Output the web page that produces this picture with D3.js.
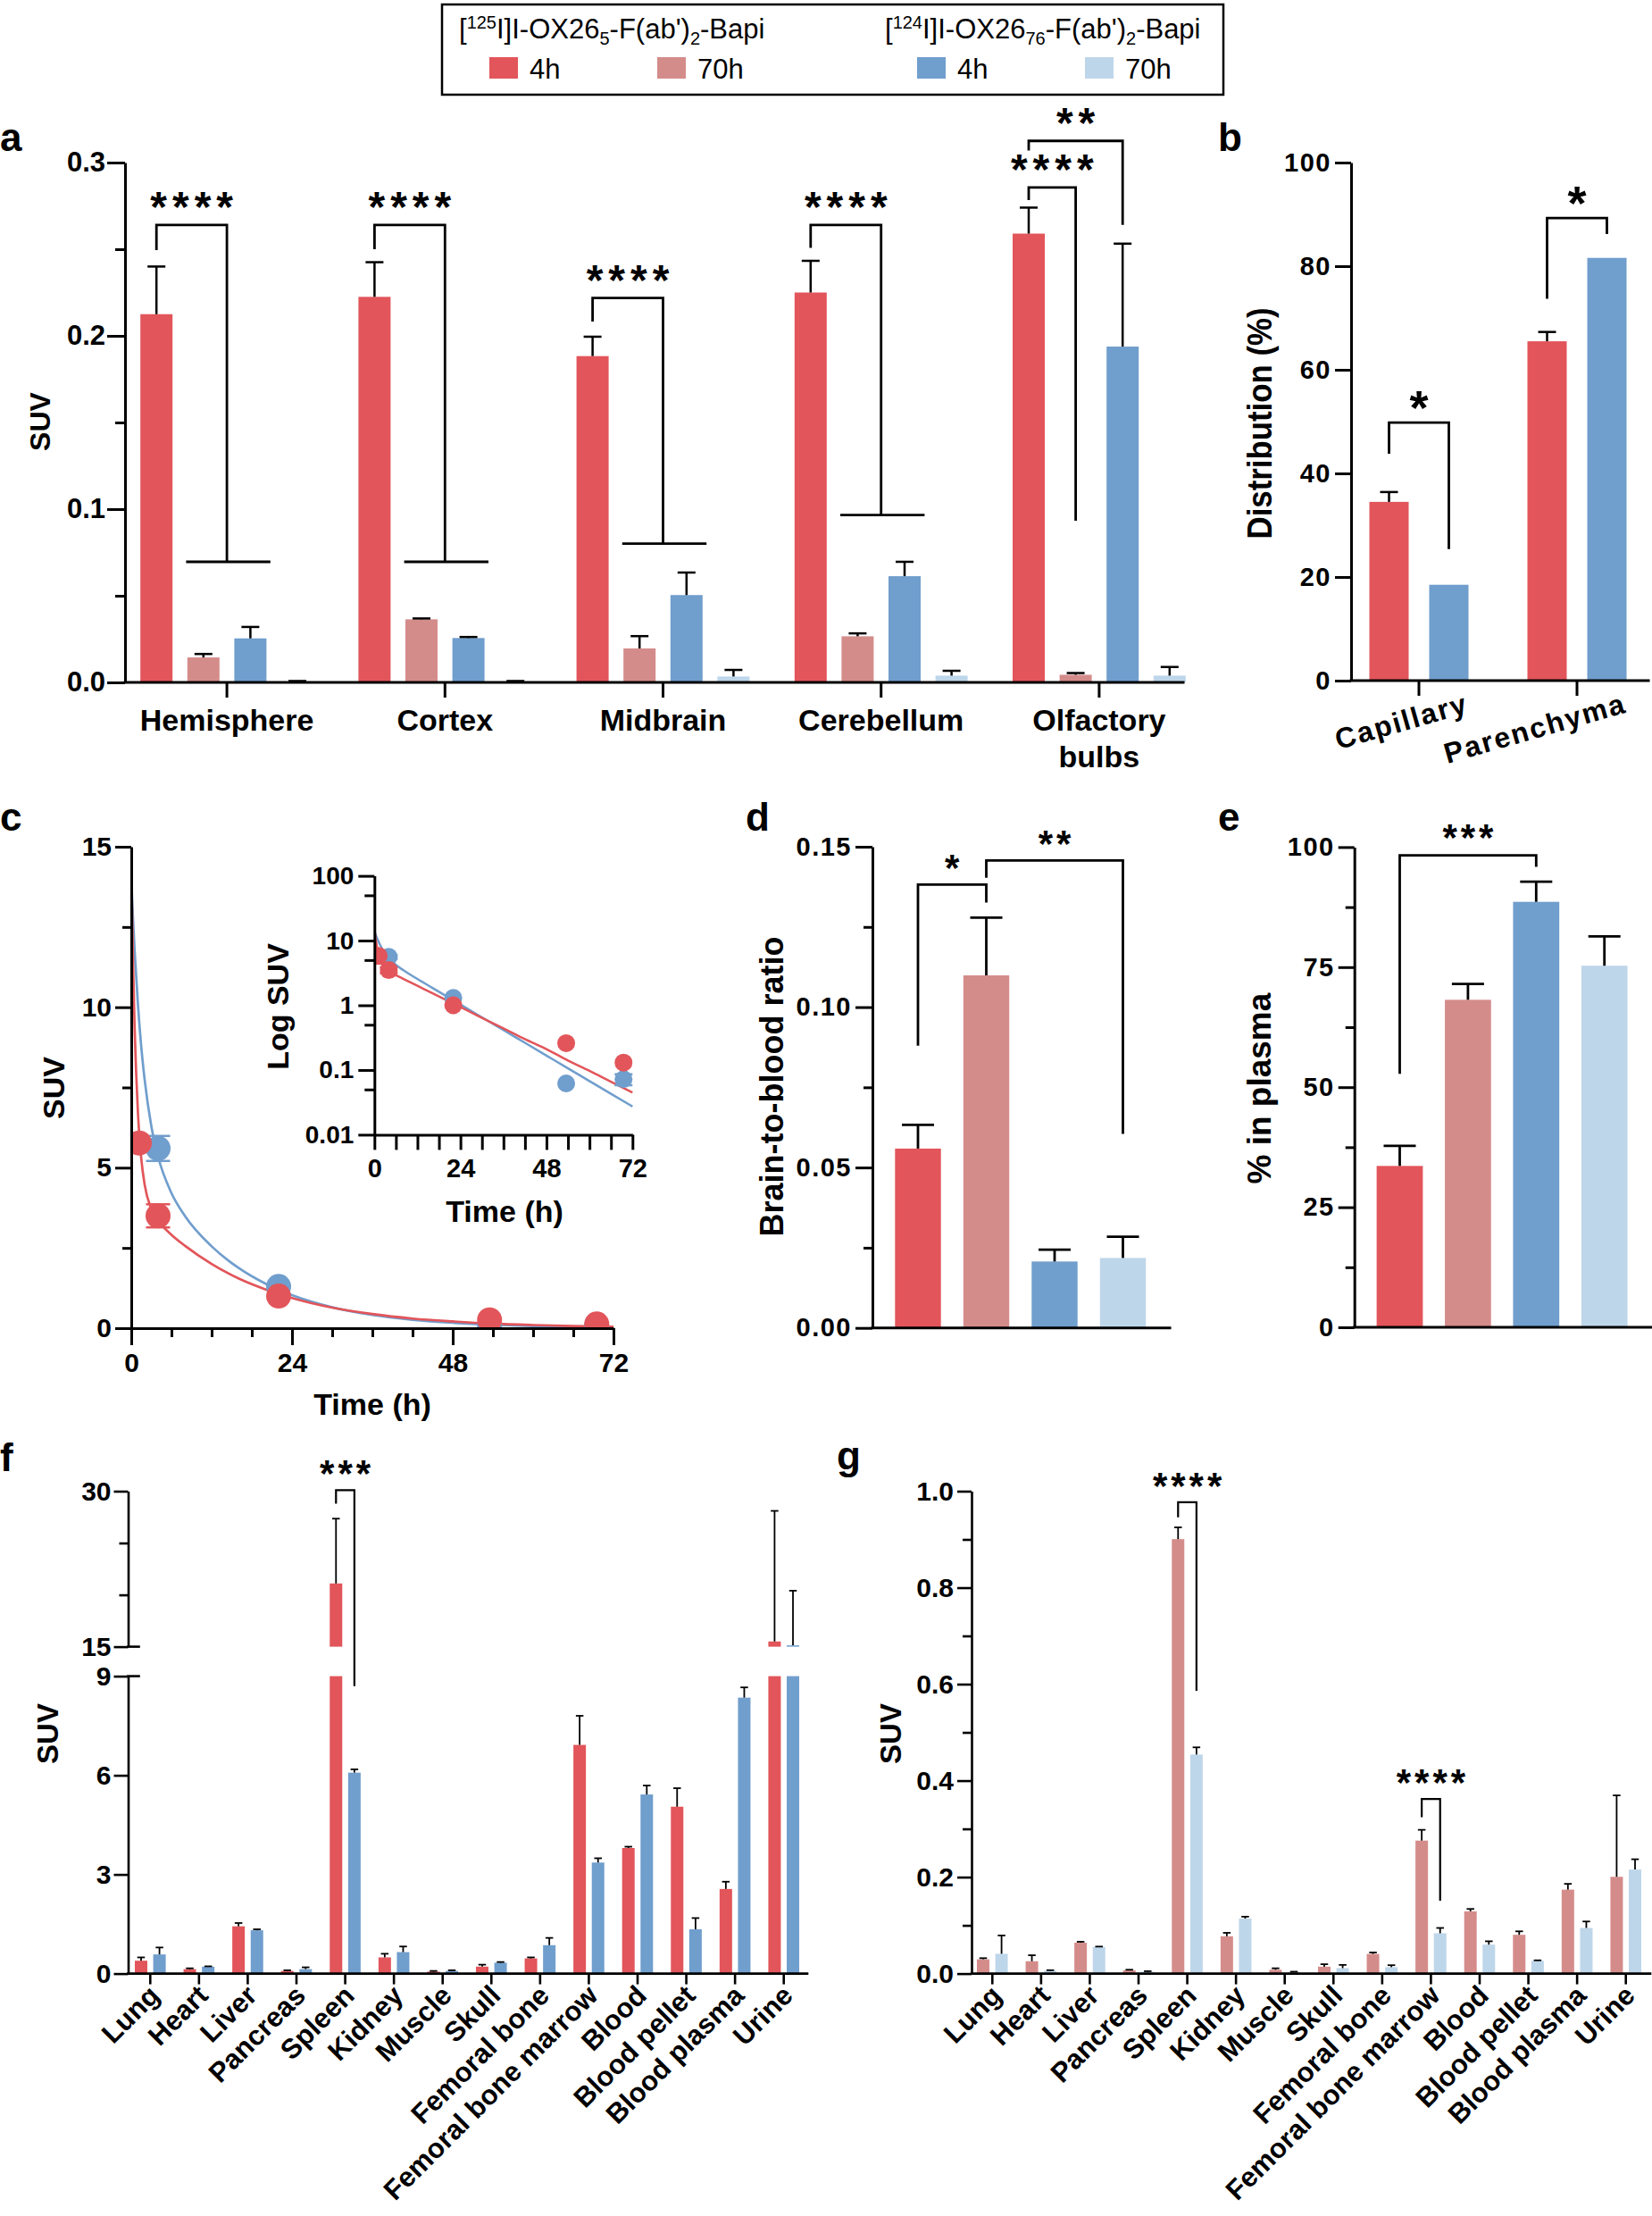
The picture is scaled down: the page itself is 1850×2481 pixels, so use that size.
<!DOCTYPE html>
<html>
<head>
<meta charset="utf-8">
<script src="https://cdn.jsdelivr.net/npm/d3@7"></script>
<style>
  body { margin: 0; background: #fff; }
  svg { display: block; }
  text { font-family: "Liberation Sans", Arial, Helvetica, sans-serif; fill: #000; }
</style>
</head>
<body>
<svg id="fig" width="1850" height="2481"></svg>
<script>
// ---- data ----
var seriesNames = ["4h", "70h", "4h", "70h"];
var seriesColors = ["#E2555A", "#D48C8B", "#709ECD", "#BED6EA"];

// a: brain regions, SUV
var regionsA = ["Hemisphere", "Cortex", "Midbrain", "Cerebellum", "Olfactory bulbs"];
var a125_4h = [0.2125, 0.2225, 0.1883, 0.225, 0.259];
var a125_4hSd = [0.0275, 0.02, 0.0112, 0.0183, 0.015];
var a125_70h = [0.0144, 0.0364, 0.0196, 0.0266, 0.0044];
var a125_70hSd = [0.002, 0.0005, 0.0071, 0.0017, 0.001];
var a124_4h = [0.0254, 0.0256, 0.0504, 0.0613, 0.1938];
var a124_4hSd = [0.0066, 0.0006, 0.013, 0.0083, 0.0594];
var a124_70h = [0.0005, 0.0005, 0.0034, 0.0039, 0.0039];
var a124_70hSd = [0.0003, 0.0003, 0.0038, 0.0028, 0.005];
var aTicks = [0, 0.1, 0.2, 0.3];
var aMinor = [0.05, 0.15, 0.25];
// group, left series, right series (-1 = group centre with cross bar), top, left foot, right foot, label
var aSig = [
  [0, 0, -1, 0.264, 0.2495, 0.0696, "****"],
  [1, 0, -1, 0.264, 0.250, 0.0696, "****"],
  [2, 0, -1, 0.2218, 0.2082, 0.0801, "****"],
  [3, 0, -1, 0.264, 0.2508, 0.0966, "****"],
  [4, 0, 1, 0.2856, 0.2784, 0.0933, "****"],
  [4, 0, 2, 0.3125, 0.307, 0.264, "**"]
];

// b: distribution (%)
var compartments = ["Capillary", "Parenchyma"];
var b125 = [34.5, 65.5], b125Sd = [1.9, 1.8];
var b124 = [18.5, 81.6], b124Sd = [0, 0];
var bTicks = [0, 20, 40, 60, 80, 100];
var bSig = [[0, 49.8, 43.8, 25.4, "*"], [1, 89.3, 73.7, 86.2, "*"]];

// c: blood SUV over time
var tRed = [1.2, 4, 22, 53.5, 69.5];
var suvRed = [5.77, 3.5, 1.0, 0.26, 0.13];
var suvRedSd = [0, 0.36, 0, 0, 0];
var tBlue = [4, 22, 53.5, 69.5];
var suvBlue = [5.6, 1.3, 0.062, 0.072];
var suvBlueSd = [0.39, 0, 0, 0.014];
var fitT = [0, 0.25, 0.5, 1, 1.5, 2, 3, 4, 6, 8, 12, 16, 20, 24, 30, 36, 42, 48, 54, 60, 66, 72];
var fitRed = [14.4, 11.5, 9.37, 6.7, 5.27, 4.47, 3.71, 3.35, 2.91, 2.57, 2.0, 1.55, 1.21, 0.94, 0.64, 0.44, 0.30, 0.21, 0.14, 0.097, 0.066, 0.045];
var fitBlue = [14.0, 12.81, 11.77, 10.07, 8.75, 7.74, 6.29, 5.35, 4.21, 3.5, 2.55, 1.88, 1.39, 1.03, 0.652, 0.414, 0.263, 0.167, 0.106, 0.0675, 0.0429, 0.0273];
var cTicksY = [0, 5, 10, 15], cMinorY = [2.5, 7.5, 12.5];
var timeTicks = [0, 24, 48, 72], timeMinor = [6, 12, 18, 30, 36, 42, 54, 60, 66];
var logTicks = [0.01, 0.1, 1, 10, 100], logMinor = [0.05, 0.5, 5, 50];

// d: brain-to-blood ratio
var dRatio = [0.0559, 0.1099, 0.0207, 0.0218];
var dRatioSd = [0.0074, 0.018, 0.0037, 0.0066];
var dTicks = [0, 0.05, 0.10, 0.15], dMinor = [0.025, 0.075, 0.125];
var dSig = [[0, 1, 0.1382, 0.088, 0.1326, "*"], [1, 3, 0.1457, 0.1403, 0.0605, "**"]];

// e: % in plasma
var ePlasma = [33.6, 68.2, 88.6, 75.3];
var ePlasmaSd = [4.2, 3.3, 4.2, 6.1];
var eTicks = [0, 25, 50, 75, 100], eMinor = [12.5, 37.5, 62.5, 87.5];
var eSig = [[0, 2, 98.3, 52.8, 95.9, "***"]];

// f, g: biodistribution
var organs = ["Lung", "Heart", "Liver", "Pancreas", "Spleen", "Kidney", "Muscle", "Skull", "Femoral bone",
  "Femoral bone marrow", "Blood", "Blood pellet", "Blood plasma", "Urine"];
var f125 = [0.39, 0.135, 1.43, 0.08, 21.1, 0.49, 0.06, 0.21, 0.46, 6.92, 3.8, 5.05, 2.56, 15.5];
var f125Sd = [0.10, 0.025, 0.10, 0.02, 6.25, 0.11, 0.02, 0.06, 0.03, 0.88, 0.04, 0.56, 0.22, 12.6];
var f124 = [0.58, 0.21, 1.31, 0.135, 6.08, 0.65, 0.08, 0.33, 0.86, 3.36, 5.42, 1.34, 8.35, 15.13];
var f124Sd = [0.21, 0.01, 0.03, 0.055, 0.10, 0.17, 0.02, 0.02, 0.22, 0.13, 0.27, 0.34, 0.31, 5.27];
var fTicksLow = [0, 3, 6, 9], fTicksHigh = [15, 30], fMinorHigh = [20, 25];
// organ index, top, left foot, right foot, label
var fSig = [[4, 30.1, 28.8, 8.7, "***"]];
var g125 = [0.0296, 0.0256, 0.064, 0.007, 0.9006, 0.0774, 0.008, 0.0143, 0.0407, 0.2757, 0.129, 0.0804, 0.174, 0.2006];
var g125Sd = [0.0024, 0.0124, 0.002, 0.001, 0.0244, 0.0071, 0.003, 0.0051, 0.003, 0.0223, 0.005, 0.0072, 0.012, 0.1688];
var g124 = [0.041, 0.006, 0.055, 0.004, 0.454, 0.114, 0.003, 0.0113, 0.0133, 0.0835, 0.06, 0.0265, 0.0946, 0.2157];
var g124Sd = [0.038, 0.001, 0.001, 0.001, 0.015, 0.004, 0.001, 0.0067, 0.0041, 0.0111, 0.007, 0.001, 0.0134, 0.0213];
var gTicks = [0, 0.2, 0.4, 0.6, 0.8, 1.0], gMinor = [0.1, 0.3, 0.5, 0.7, 0.9];
var gSig = [[4, 0.977, 0.946, 0.586, "****"], [9, 0.362, 0.324, 0.151, "****"]];

// ---- helpers ----
var svg = d3.select("#fig");

function axisStyle(ax, size, sw, sp) {
  ax.attr("font-size", size).attr("font-weight", "bold").attr("font-family", null);
  ax.selectAll("line,path").attr("stroke", "#000").attr("stroke-width", sw);
  if (sp) ax.selectAll("text").style("letter-spacing", sp + "px");
}

function yAxis(g, y, x0, major, minor, fmt, o) {
  var ax = g.append("g").attr("transform", "translate(" + x0 + ",0)")
    .call(d3.axisLeft(y).tickValues(major).tickFormat(fmt).tickSize(o.len).tickSizeOuter(0).tickPadding(o.pad));
  axisStyle(ax, o.size, o.sw, o.sp);
  if (minor) {
    var mi = g.append("g").attr("transform", "translate(" + x0 + ",0)")
      .call(d3.axisLeft(y).tickValues(minor).tickFormat("").tickSize(o.mlen).tickSizeOuter(0));
    mi.select(".domain").remove();
    axisStyle(mi, o.size, o.sw);
  }
  return ax;
}

function hLine(g, x1, x2, y, sw) {
  g.append("line").attr("x1", x1).attr("x2", x2).attr("y1", y).attr("y2", y)
    .attr("stroke", "#000").attr("stroke-width", sw).attr("stroke-linecap", "square");
}

function downTicks(g, xs, y0, len, sw) {
  g.append("g").selectAll("line").data(xs).enter().append("line")
    .attr("x1", function(d) { return d; }).attr("x2", function(d) { return d; })
    .attr("y1", y0).attr("y2", y0 + len).attr("stroke", "#000").attr("stroke-width", sw);
}

function drawBars(g, xs, vals, y, w, color) {
  g.append("g").selectAll("rect").data(vals).enter().append("rect")
    .attr("x", function(d, i) { return xs[i] - w / 2; })
    .attr("width", w)
    .attr("y", function(d) { return y(d); })
    .attr("height", function(d) { return y(0) - y(d); })
    .attr("fill", color);
}

function drawErr(g, xs, vals, sds, y, capW, sw, color) {
  var eg = g.append("g").attr("stroke", color || "#000").attr("stroke-width", sw);
  vals.forEach(function(v, i) {
    var top = y(v + sds[i]);
    eg.append("line").attr("x1", xs[i]).attr("x2", xs[i]).attr("y1", y(v)).attr("y2", top);
    eg.append("line").attr("x1", xs[i] - capW / 2).attr("x2", xs[i] + capW / 2).attr("y1", top).attr("y2", top);
  });
}

function bracket(g, xl, xr, yTop, yl, yr, sw) {
  g.append("path").attr("d", "M" + xl + "," + yl + "V" + yTop + "H" + xr + "V" + yr)
    .attr("fill", "none").attr("stroke", "#000").attr("stroke-width", sw);
}

function stars(g, cx, cy, s, size, sp) {
  g.append("text").attr("x", cx + sp / 2).attr("y", cy + size * 0.5)
    .attr("text-anchor", "middle").attr("font-size", size).attr("font-weight", "bold")
    .style("letter-spacing", sp + "px").text(s);
}

function vTitle(g, cx, cy, s, size, len) {
  var t = g.append("text")
    .attr("transform", "translate(" + (cx + size * 0.36) + "," + cy + ") rotate(-90)")
    .attr("text-anchor", "middle").attr("font-size", size).attr("font-weight", "bold").text(s);
  if (len) t.attr("textLength", len).attr("lengthAdjust", "spacingAndGlyphs");
}

function panelLabel(s, x, y) {
  svg.append("text").attr("x", x).attr("y", y).attr("font-size", 44).attr("font-weight", "bold").text(s);
}

function innerBand(n, step, bw) {
  var pi = 1 - bw / step;
  return d3.scaleBand().domain(d3.range(n)).range([-step * n / 2, step * n / 2])
    .paddingInner(pi).paddingOuter(pi / 2);
}

// ---- legend ----
var L = svg.append("g");
L.append("rect").attr("x", 495).attr("y", 5).attr("width", 875).attr("height", 101)
  .attr("fill", "none").attr("stroke", "#000").attr("stroke-width", 2.5);
function legendTitle(x, iso, sub) {
  var t = L.append("text").attr("x", x).attr("y", 43).attr("font-size", 31);
  t.append("tspan").text("[");
  t.append("tspan").attr("font-size", 20).attr("dy", -11).text(iso);
  t.append("tspan").attr("dy", 11).text("I]I-OX26");
  t.append("tspan").attr("font-size", 20).attr("dy", 7).text(sub);
  t.append("tspan").attr("dy", -7).text("-F(ab')");
  t.append("tspan").attr("font-size", 20).attr("dy", 7).text("2");
  t.append("tspan").attr("dy", -7).text("-Bapi");
}
legendTitle(514, "125", "5");
legendTitle(991, "124", "76");
var legendX = [548, 736, 1027, 1215];
seriesNames.forEach(function(n, i) {
  L.append("rect").attr("x", legendX[i]).attr("y", 64).attr("width", 32).attr("height", 24).attr("fill", seriesColors[i]);
  L.append("text").attr("x", legendX[i] + 45).attr("y", 88).attr("font-size", 31).text(n);
});

// ---- panel a ----
var A = svg.append("g");
panelLabel("a", 0, 169);
var xA = d3.scaleBand().domain(regionsA).range([132, 1353]);
var cxA = function(d) { return xA(d) + xA.bandwidth() / 2; };
var sA = innerBand(4, 52.6, 36);
var offA = function(s) { return sA(s) + sA.bandwidth() / 2; };
var yA = d3.scaleLinear().domain([0, 0.3]).range([764, 182]);
var aMeans = [a125_4h, a125_70h, a124_4h, a124_70h];
var aSds = [a125_4hSd, a125_70hSd, a124_4hSd, a124_70hSd];
aMeans.forEach(function(vals, s) {
  var xs = regionsA.map(function(r) { return cxA(r) + offA(s); });
  drawBars(A, xs, vals, yA, sA.bandwidth(), seriesColors[s]);
  drawErr(A, xs, vals, aSds[s], yA, 20, 2.5);
});
aSig.forEach(function(b) {
  var c = cxA(regionsA[b[0]]);
  var xl = c + offA(b[1]);
  var xr = b[2] < 0 ? c : c + offA(b[2]);
  bracket(A, xl, xr, yA(b[3]), yA(b[4]), yA(b[5]), 2.8);
  if (b[2] < 0) hLine(A, c + offA(1) - 18, c + offA(2) + 21, yA(b[5]), 2.8);
  stars(A, (xl + xr) / 2, yA(b[3]) - 28, b[6], 48, 6);
});
yAxis(A, yA, 140, aTicks, aMinor, d3.format(".1f"), { len: 20, mlen: 11, pad: 2, size: 31, sw: 3 });
hLine(A, 140, 1325, 764, 3);
downTicks(A, regionsA.map(cxA), 764, 17, 3);
regionsA.forEach(function(r) {
  var t = A.append("text").attr("text-anchor", "middle").attr("font-size", 34).attr("font-weight", "bold");
  r.split(" ").forEach(function(w, k) {
    t.append("tspan").attr("x", cxA(r)).attr("y", 818 + k * 41).text(w);
  });
});
vTitle(A, 44, 472, "SUV", 32);

// ---- panel b ----
var B = svg.append("g");
panelLabel("b", 1364, 169);
var xB = d3.scaleBand().domain(compartments).range([1500.5, 1854.5]);
var cxB = function(d) { return xB(d) + xB.bandwidth() / 2; };
var sB = innerBand(2, 67, 44);
var offB = function(s) { return sB(s) + sB.bandwidth() / 2; };
var yB = d3.scaleLinear().domain([0, 100]).range([762, 182]);
[[b125, b125Sd, 0], [b124, b124Sd, 2]].forEach(function(p, s) {
  var xs = compartments.map(function(c) { return cxB(c) + offB(s); });
  drawBars(B, xs, p[0], yB, sB.bandwidth(), seriesColors[p[2]]);
  drawErr(B, xs.filter(function(d, i) { return p[1][i] > 0; }),
    p[0].filter(function(d, i) { return p[1][i] > 0; }),
    p[1].filter(function(d) { return d > 0; }), yB, 20, 2.5);
});
bSig.forEach(function(b) {
  var c = cxB(compartments[b[0]]);
  bracket(B, c + offB(0), c + offB(1), yB(b[1]), yB(b[2]), yB(b[3]), 2.8);
  stars(B, c, yB(b[1]) - 25, b[4], 54, 0);
});
yAxis(B, yB, 1513, bTicks, null, d3.format("d"), { len: 18, pad: 4, size: 29, sw: 3, sp: 1.5 });
hLine(B, 1513, 1846, 762, 3);
downTicks(B, compartments.map(cxB), 762, 17, 3);
compartments.forEach(function(c) {
  B.append("text").attr("transform", "translate(" + (cxB(c) + 57) + ",797) rotate(-16)")
    .attr("text-anchor", "end").attr("font-size", 32).attr("font-weight", "bold")
    .style("letter-spacing", "2px").text(c);
});
vTitle(B, 1410, 474, "Distribution (%)", 38, 259);

// ---- panel c ----
var C = svg.append("g");
panelLabel("c", 0, 930);
var xC = d3.scaleLinear().domain([0, 72]).range([147, 687]);
var yC = d3.scaleLinear().domain([0, 15]).range([1487, 948]);
C.append("clipPath").attr("id", "clipC").append("rect").attr("x", 147).attr("y", 930).attr("width", 560).attr("height", 557);
var CP = C.append("g").attr("clip-path", "url(#clipC)");
function fitLine(x, y, vals) {
  return d3.line().curve(d3.curveMonotoneX).x(function(d, i) { return x(fitT[i]); }).y(function(d) { return y(d); })(vals);
}
CP.append("path").attr("d", fitLine(xC, yC, fitBlue)).attr("fill", "none").attr("stroke", seriesColors[2]).attr("stroke-width", 2.7);
CP.append("path").attr("d", fitLine(xC, yC, fitRed)).attr("fill", "none").attr("stroke", seriesColors[0]).attr("stroke-width", 2.7);
function points(g, x, y, ts, vs, sds, color, r, capW) {
  g.append("g").selectAll("circle").data(vs).enter().append("circle")
    .attr("cx", function(d, i) { return x(ts[i]); }).attr("cy", function(d) { return y(d); })
    .attr("r", r).attr("fill", color);
  var eg = g.append("g").attr("stroke", color).attr("stroke-width", 2.5);
  vs.forEach(function(v, i) {
    if (!sds[i]) return;
    var cx = x(ts[i]);
    [v - sds[i], v + sds[i]].forEach(function(e) {
      eg.append("line").attr("x1", cx - capW / 2).attr("x2", cx + capW / 2).attr("y1", y(e)).attr("y2", y(e));
    });
    eg.append("line").attr("x1", cx).attr("x2", cx).attr("y1", y(v - sds[i])).attr("y2", y(v + sds[i]));
  });
}
points(CP, xC, yC, tBlue, suvBlue, suvBlueSd, seriesColors[2], 14, 27);
points(CP, xC, yC, tRed, suvRed, suvRedSd, seriesColors[0], 14, 27);
yAxis(C, yC, 147, cTicksY, cMinorY, d3.format("d"), { len: 18, mlen: 10, pad: 4, size: 30, sw: 3 });
var cx1 = C.append("g").attr("transform", "translate(0,1487)")
  .call(d3.axisBottom(xC).tickValues(timeTicks).tickSize(19).tickSizeOuter(0).tickPadding(9));
axisStyle(cx1, 30, 3);
var cx2 = C.append("g").attr("transform", "translate(0,1487)")
  .call(d3.axisBottom(xC).tickValues(timeMinor).tickSize(10).tickFormat(""));
cx2.select(".domain").remove();
axisStyle(cx2, 30, 3);
C.append("text").attr("x", 417).attr("y", 1584).attr("text-anchor", "middle").attr("font-size", 34).attr("font-weight", "bold").text("Time (h)");
vTitle(C, 60, 1218, "SUV", 34);

// inset
var xI = d3.scaleLinear().domain([0, 72]).range([419.3, 708.3]);
var yI = d3.scaleLog().domain([0.01, 100]).range([1270.4, 980.6]);
C.append("clipPath").attr("id", "clipI").append("rect").attr("x", 419.3).attr("y", 975).attr("width", 300).attr("height", 296);
var IP = C.append("g").attr("clip-path", "url(#clipI)");
IP.append("path").attr("d", fitLine(xI, yI, fitBlue)).attr("fill", "none").attr("stroke", seriesColors[2]).attr("stroke-width", 2.5);
IP.append("path").attr("d", fitLine(xI, yI, fitRed)).attr("fill", "none").attr("stroke", seriesColors[0]).attr("stroke-width", 2.5);
points(IP, xI, yI, tBlue, suvBlue, suvBlueSd, seriesColors[2], 10, 20);
points(IP, xI, yI, tRed, suvRed, suvRedSd, seriesColors[0], 10, 20);
yAxis(C, yI, 419.3, logTicks, logMinor, function(d) { return String(d); }, { len: 18, mlen: 11, pad: 5, size: 28, sw: 3 });
var ix = C.append("g").attr("transform", "translate(0,1270.4)")
  .call(d3.axisBottom(xI).tickValues(timeTicks).tickSize(17).tickSizeOuter(0).tickPadding(10));
axisStyle(ix, 29, 3);
var ix2 = C.append("g").attr("transform", "translate(0,1270.4)")
  .call(d3.axisBottom(xI).tickValues(timeMinor).tickSize(17).tickFormat(""));
ix2.select(".domain").remove();
axisStyle(ix2, 29, 3);
C.append("text").attr("x", 565).attr("y", 1368).attr("text-anchor", "middle").attr("font-size", 34).attr("font-weight", "bold").text("Time (h)");
vTitle(C, 311, 1127, "Log SUV", 34);

// ---- panel d ----
var D = svg.append("g");
panelLabel("d", 835, 930);
var xD = d3.scaleBand().domain(d3.range(4)).range([989.75, 1295.75]).paddingInner(0.328).paddingOuter(0.164);
var cxD = function(i) { return xD(i) + xD.bandwidth() / 2; };
var yD = d3.scaleLinear().domain([0, 0.15]).range([1486.7, 948]);
dRatio.forEach(function(v, i) {
  drawBars(D, [cxD(i)], [v], yD, xD.bandwidth(), seriesColors[i]);
});
drawErr(D, d3.range(4).map(cxD), dRatio, dRatioSd, yD, 36, 2.8);
dSig.forEach(function(b) {
  var xl = cxD(b[0]), xr = cxD(b[1]);
  bracket(D, xl, xr, yD(b[2]), yD(b[3]), yD(b[4]), 2.8);
  stars(D, (xl + xr) / 2, yD(b[2]) - 25, b[5], 42, 4);
});
yAxis(D, yD, 977, dTicks, dMinor, d3.format(".2f"), { len: 19, mlen: 10, pad: 4, size: 29, sw: 3, sp: 1.5 });
hLine(D, 977, 1310, 1486.7, 3);
vTitle(D, 864, 1216.5, "Brain-to-blood ratio", 36);

// ---- panel e ----
var E = svg.append("g");
panelLabel("e", 1364, 930);
var xE = d3.scaleBand().domain(d3.range(4)).range([1529.3, 1834.9]).paddingInner(0.323).paddingOuter(0.1615);
var cxE = function(i) { return xE(i) + xE.bandwidth() / 2; };
var yE = d3.scaleLinear().domain([0, 100]).range([1486, 948.4]);
ePlasma.forEach(function(v, i) {
  drawBars(E, [cxE(i)], [v], yE, xE.bandwidth(), seriesColors[i]);
});
drawErr(E, d3.range(4).map(cxE), ePlasma, ePlasmaSd, yE, 36, 2.8);
eSig.forEach(function(b) {
  var xl = cxE(b[0]), xr = cxE(b[1]);
  bracket(E, xl, xr, yE(b[2]), yE(b[3]), yE(b[4]), 2.8);
  stars(E, (xl + xr) / 2, yE(b[2]) - 26.5, b[5], 42, 4);
});
yAxis(E, yE, 1516.7, eTicks, eMinor, d3.format("d"), { len: 18, mlen: 10, pad: 4, size: 29, sw: 3, sp: 1.5 });
hLine(E, 1516.7, 1850, 1486, 3);
vTitle(E, 1410, 1218.6, "% in plasma", 37);

// ---- panel f (broken axis) ----
var F = svg.append("g");
panelLabel("f", 0, 1647);
var xF = d3.scaleBand().domain(organs).range([141, 905]);
var cxF = function(d) { return xF(d) + xF.bandwidth() / 2; };
var sF = innerBand(2, 20.6, 14);
var offF = function(s) { return sF(s) + sF.bandwidth() / 2; };
var yLow = d3.scaleLinear().domain([0, 9]).range([2209.6, 1876.6]);
var yHigh = d3.scaleLinear().domain([15, 30]).range([1843.6, 1669.5]);
var yF = function(v) { return v > 12 ? yHigh(v) : yLow(v); };
[[f125, f125Sd, 0], [f124, f124Sd, 2]].forEach(function(p, s) {
  var bg = F.append("g").attr("fill", seriesColors[p[2]]);
  var w = sF.bandwidth();
  p[0].forEach(function(v, i) {
    var cx = cxF(organs[i]) + offF(s);
    var lowTop = yLow(Math.min(v, 9));
    bg.append("rect").attr("x", cx - w / 2).attr("width", w).attr("y", lowTop).attr("height", yLow(0) - lowTop);
    if (v > 15) bg.append("rect").attr("x", cx - w / 2).attr("width", w).attr("y", yHigh(v)).attr("height", yHigh(15) - yHigh(v));
  });
  drawErr(F, organs.map(function(o) { return cxF(o) + offF(s); }), p[0], p[1], yF, 8.5, 1.8);
});
fSig.forEach(function(b) {
  var c = cxF(organs[b[0]]);
  var xl = c + offF(0), xr = c + offF(1);
  bracket(F, xl, xr, yF(b[1]), yF(b[2]), yF(b[3]), 2.2);
  stars(F, (xl + xr) / 2, yF(b[1]) - 25, b[4], 42, 4);
});
yAxis(F, yLow, 143.5, fTicksLow, null, d3.format("d"), { len: 16, pad: 3, size: 30, sw: 2.6 });
yAxis(F, yHigh, 143.5, fTicksHigh, fMinorHigh, d3.format("d"), { len: 16, mlen: 10, pad: 3, size: 30, sw: 2.6 });
hLine(F, 143.5, 155.5, yHigh(15), 2.6);
hLine(F, 143.5, 155.5, yLow(9), 2.6);
hLine(F, 143.5, 904, 2209.6, 2.6);
downTicks(F, organs.map(cxF), 2209.6, 12, 2.6);
organs.forEach(function(o) {
  F.append("text").attr("transform", "translate(" + (cxF(o) + 12) + ",2236) rotate(-45)")
    .attr("text-anchor", "end").attr("font-size", 31).attr("font-weight", "bold").text(o);
});
vTitle(F, 53, 1941, "SUV", 33);

// ---- panel g ----
var G = svg.append("g");
panelLabel("g", 937, 1645);
var xG = d3.scaleBand().domain(organs).range([1084, 1848]);
var cxG = function(d) { return xG(d) + xG.bandwidth() / 2; };
var yG = d3.scaleLinear().domain([0, 1]).range([2209.6, 1669.5]);
[[g125, g125Sd, 1], [g124, g124Sd, 3]].forEach(function(p, s) {
  var xs = organs.map(function(o) { return cxG(o) + offF(s); });
  drawBars(G, xs, p[0], yG, sF.bandwidth(), seriesColors[p[2]]);
  drawErr(G, xs, p[0], p[1], yG, 8.5, 1.8);
});
gSig.forEach(function(b) {
  var c = cxG(organs[b[0]]);
  var xl = c + offF(0), xr = c + offF(1);
  bracket(G, xl, xr, yG(b[1]), yG(b[2]), yG(b[3]), 2.2);
  stars(G, (xl + xr) / 2, yG(b[1]) - 25, b[4], 42, 4);
});
yAxis(G, yG, 1088, gTicks, gMinor, d3.format(".1f"), { len: 16, mlen: 10, pad: 4, size: 30, sw: 2.6 });
hLine(G, 1088, 1848, 2209.6, 2.6);
downTicks(G, organs.map(cxG), 2209.6, 12, 2.6);
organs.forEach(function(o) {
  G.append("text").attr("transform", "translate(" + (cxG(o) + 12) + ",2236) rotate(-45)")
    .attr("text-anchor", "end").attr("font-size", 31).attr("font-weight", "bold").text(o);
});
vTitle(G, 997, 1941, "SUV", 33);
</script>
</body>
</html>
